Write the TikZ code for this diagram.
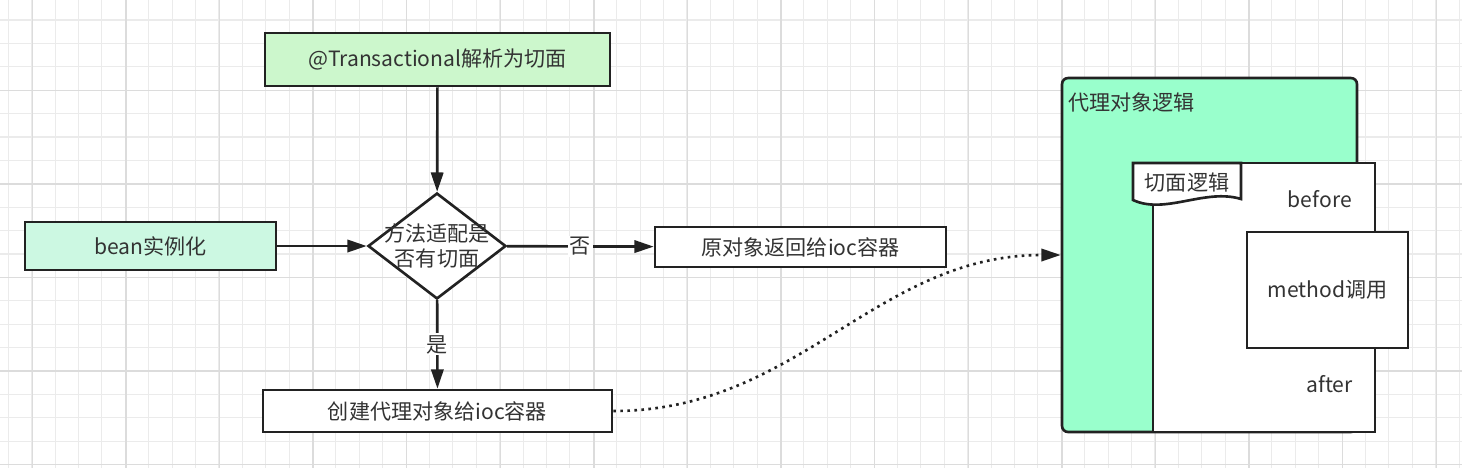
\documentclass[tikz,border=0pt]{standalone}
\usepackage{fontspec}
\setmainfont{Noto Sans CJK SC}
\usetikzlibrary{arrows.meta,shapes.geometric}
\definecolor{gridgray}{HTML}{EBEBEB}
\definecolor{gridmajor}{HTML}{DCDCDC}
\definecolor{linegray}{HTML}{222222}
\definecolor{textgray}{HTML}{333333}
\definecolor{topgreen}{HTML}{CCF7CC}
\definecolor{beangreen}{HTML}{CCF8E2}
\definecolor{proxygreen}{HTML}{99FFCC}

\begin{document}
\begin{tikzpicture}[x=0.02cm,y=-0.02cm,
        font=\fontsize{12}{14}\selectfont,
        >={Triangle[length=11pt,width=7pt]},
        gridline/.style={draw=gridgray,line width=0.6pt},
        gridbold/.style={draw=gridmajor,line width=0.8pt},
        box/.style={draw=linegray,line width=1.5pt,text=textgray,inner sep=0pt},
        flow/.style={->,draw=linegray,line width=1.5pt},
        lbl/.style={fill=white,text=textgray,inner sep=1pt},
        txt/.style={text=textgray,inner sep=0pt}]
    \useasboundingbox (0,0) rectangle (1462,468);
    \fill[white] (0,0) rectangle (1462,468);
    \foreach \i in {0,...,62} \draw[gridline] ({8.3+23.4*\i},0)--({8.3+23.4*\i},468);
    \foreach \j in {0,...,19} \draw[gridline] (0,{20+23.4*\j})--(1462,{20+23.4*\j});
    \foreach \i in {0,...,15} \draw[gridbold] ({32.3+93.6*\i},0)--({32.3+93.6*\i},468);
    \foreach \j in {0,...,4} \draw[gridbold] (0,{90.2+93.6*\j})--(1462,{90.2+93.6*\j});

    \node[box,fill=topgreen,minimum width=6.9cm,minimum height=1.06cm] (parse) at (437.5,59.5) {@Transactional解析为切面};
    \node[box,fill=beangreen,minimum width=5.02cm,minimum height=0.96cm] (bean) at (150.5,246) {bean实例化};
    \node[box,diamond,fill=white,minimum width=2.76cm,minimum height=2.12cm,
        label={[txt,align=center]center:方法适配是\\否有切面}] (match) at (437,246) {};
    \node[box,fill=white,minimum width=5.82cm,minimum height=0.8cm] (orig) at (800.5,247) {原对象返回给ioc容器};
    \node[box,fill=white,minimum width=6.98cm,minimum height=0.84cm] (create) at (437.5,411) {创建代理对象给ioc容器};

    \node[box,fill=proxygreen,rounded corners=0.12cm,minimum width=5.9cm,minimum height=7.08cm] (proxy) at (1209.5,255) {};
    \node[txt,anchor=west] (proxytitle) at (1068,102) {代理对象逻辑};
    \node[box,fill=white,minimum width=4.44cm,minimum height=5.38cm] (aspect) at (1264,297.5) {};
    \filldraw[fill=white,draw=linegray,line width=1.5pt] (1133,163) -- (1241,163) -- (1241,199)
        .. controls (1205,188) and (1165,215) .. (1133,200) -- cycle;
    \node[txt] (aspecttitle) at (1187,182) {切面逻辑};
    \node[txt,anchor=east] (before) at (1352,199) {before};
    \node[box,fill=white,minimum width=3.22cm,minimum height=2.32cm] (method) at (1327.5,290) {method调用};
    \node[txt,anchor=east] (after) at (1353,384) {after};

    \draw[flow] (parse) -- (match);
    \draw[flow] (bean) -- (match);
    \draw[flow] (match) -- node[lbl]{否} (orig);
    \draw[flow] (match) -- node[lbl]{是} (create);
    \draw[flow,dash pattern=on 1.5pt off 2.5pt] (create) to[out=0,in=180] (proxy);
\end{tikzpicture}
\end{document}
